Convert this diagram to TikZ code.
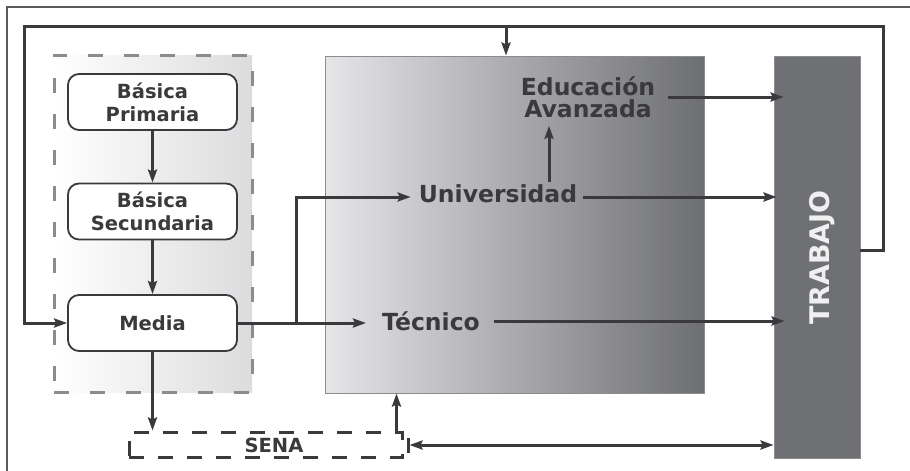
\documentclass[tikz,border=0pt]{standalone}
\usepackage{fontspec}
\setmainfont{DejaVu Sans}
\usetikzlibrary{arrows.meta,calc}
\definecolor{ink}{HTML}{3A3A3C}
\definecolor{framegray}{HTML}{5A5A5C}
\definecolor{dashgray}{HTML}{8C8C8E}
\definecolor{lightend}{HTML}{DCDCDE}
\definecolor{gradleft}{HTML}{E6E6E8}
\definecolor{gradright}{HTML}{6D6E72}
\definecolor{workgray}{HTML}{6F7074}
\begin{document}
\begin{tikzpicture}[x=1pt,y=-1pt,
  stagebox/.style={draw=ink, line width=1.8pt, fill=white, rounded corners=11pt,
    minimum width=169pt, minimum height=56pt, inner sep=2pt, align=center,
    text=ink, font=\bfseries\fontsize{19.5}{23}\selectfont},
  bigtxt/.style={text=ink, inner sep=3pt, align=center,
    font=\bfseries\fontsize{23.5}{22}\selectfont},
  conn/.style={draw=ink, line width=3pt},
  arr/.style={conn, -{Stealth[length=13pt,width=9pt,inset=2pt]}},
  darr/.style={conn, {Stealth[length=13pt,width=9pt,inset=2pt]}-{Stealth[length=13pt,width=9pt,inset=2pt]}}
]
\useasboundingbox (0,0) rectangle (910,471);
% page frame
\draw[framegray, line width=1.2pt] (7,471) -- (7,7) -- (910,7);

% light dashed group
\node[draw=dashgray, line width=3pt, dash pattern=on 15pt off 21pt,
  left color=white, right color=lightend, minimum width=198pt, minimum height=337pt,
  inner sep=0pt] (school) at (153,223.5) {};

% gradient block
\node[draw=dashgray, line width=1pt, left color=gradleft, right color=gradright,
  minimum width=379pt, minimum height=337pt, inner sep=0pt] (grad) at (514.5,224.5) {};

% TRABAJO block
\node[fill=workgray, draw=workgray!80!white, line width=0.8pt,
  minimum width=86pt, minimum height=402pt, inner sep=0pt] (trabajo) at (817,257) {};
\node[rotate=90, text=white!94!black, inner sep=0pt,
  font=\bfseries\fontsize{27}{27}\selectfont] (trabajolbl) at (822,257.5) {TRABAJO};

% stage boxes
\node[stagebox] (prim) at (152.5,102) {Básica\\Primaria};
\node[stagebox] (sec) at (152.5,211.5) {Básica\\Secundaria};
\node[stagebox] (media) at (152.5,323) {Media};

% SENA
\node[draw=ink, line width=3pt, dash pattern=on 15pt off 14pt,
  minimum width=273pt, minimum height=25pt, inner sep=0pt] (sena) at (265.5,444.5) {};
\node[text=ink, inner sep=0pt, font=\bfseries\fontsize{19.5}{19.5}\selectfont] (senalbl) at (274,445) {SENA};

% texts in gradient block
\node[bigtxt] (edu) at (588,97) {Educación\\Avanzada};
\node[bigtxt] (univ) at (498,194) {Universidad};
\node[bigtxt] (tec) at (431,321) {Técnico};

% vertical chain
\draw[arr] (prim) -- (sec);
\draw[arr] (sec) -- (media);
\draw[arr] (media.south) -- (media.south |- sena.north);

% from Media
\coordinate (br) at (296,323);
\coordinate (tecin) at ([xshift=-13pt]tec.west);
\coordinate (univin) at ([xshift=-5pt,yshift=-3pt]univ.west);
\draw[arr] (media.east) -- (tecin |- media.east);
\draw[arr] (br) |- (univin);

% to TRABAJO
\draw[arr] ([xshift=10pt]edu.east) -- ([xshift=10pt]edu.east -| trabajo.west);
\draw[arr] ([xshift=3pt,yshift=-3pt]univ.east) -- ([xshift=3pt,yshift=-3pt]univ.east -| trabajo.west);
\draw[arr] ([xshift=11pt]tec.east) -- ([xshift=11pt]tec.east -| trabajo.west);
\draw[arr] ([xshift=51pt]univ.north) -- ([xshift=51pt,yshift=-5pt]univ.north |- edu.south);

% SENA links
\coordinate (senaup) at ([xshift=-7pt]sena.north east);
\draw[arr] (senaup) -- (senaup |- grad.south);
\coordinate (senabar) at (408,445);
\draw[conn] (408,438) -- (408,453);
\draw[darr] ([xshift=1.5pt]senabar) -- (senabar -| trabajo.west);

% feedback loop
\coordinate (tr) at (883,26);
\coordinate (tl) at (24,26);
\coordinate (topin) at (506,26);
\draw[arr] ([yshift=7pt]trabajo.east) -| (tr) -- (tl) |- (media.west);
\draw[arr] (topin) -- (topin |- grad.north);
\end{tikzpicture}
\end{document}
